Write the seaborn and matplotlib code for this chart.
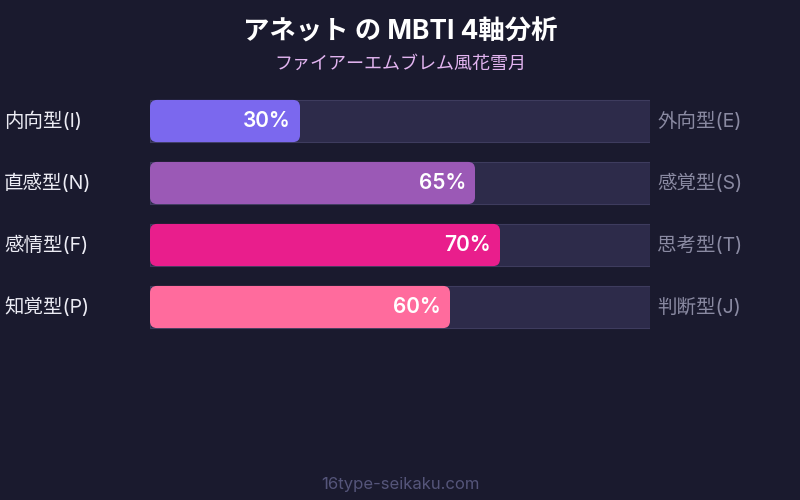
import pandas as pd
import matplotlib
matplotlib.use("Agg")
import matplotlib.pyplot as plt
import seaborn as sns
from matplotlib.patches import FancyBboxPatch

# --------------------------------------------------
# DATA
# --------------------------------------------------

left_labels = ["内向型(I)", "直感型(N)", "感情型(F)", "知覚型(P)"]
right_labels = ["外向型(E)", "感覚型(S)", "思考型(T)", "判断型(J)"]
scores = [30, 65, 70, 60]
bar_colors = ["#7b68ee", "#9b59b6", "#e91e8c", "#ff6b9d"]

title = "アネット の MBTI 4軸分析"
subtitle = "ファイアーエムブレム風花雪月"
footer = "16type-seikaku.com"

BG = "#1a1a2e"
TRACK = "#2d2b4a"

# --------------------------------------------------
# FIGURE
# --------------------------------------------------

sns.set_theme(style="dark")
plt.rcParams["font.family"] = ["Inter", "Noto Sans CJK JP", "DejaVu Sans"]

df = pd.DataFrame({
    "axis": left_labels,
    "score": scores,
    "track": [100] * len(scores),
})

fig = plt.figure(figsize=(8, 5), dpi=100, facecolor=BG)
ax = fig.add_axes([150 / 800, 1 - 338 / 500, 500 / 800, 248 / 500])
ax.set_facecolor(BG)

# background tracks
sns.barplot(
    data=df, x="track", y="axis", orient="h", saturation=1,
    color=TRACK, width=0.68, edgecolor="#3e3c5e", linewidth=0.8,
    ax=ax,
)
n_track = len(ax.patches)

# filled bars
sns.barplot(
    data=df, x="score", y="axis", orient="h", hue="axis", saturation=1,
    palette=bar_colors, legend=False, width=0.68, linewidth=0,
    ax=ax,
)

ax.set_xlim(0, 100)
ax.set_ylim(len(scores) - 0.5, -0.5)

# round off the filled bars
px_x = 100 / 500  # data units per pixel, x
px_y = 4 / 248    # data units per pixel, y
radius = 7 * px_x
fills = list(ax.patches[n_track:])
for p in fills:
    x0, y0 = p.get_x(), p.get_y()
    w, h = p.get_width(), p.get_height()
    color = p.get_facecolor()
    p.remove()
    ax.add_patch(FancyBboxPatch(
        (x0, y0), w, h,
        boxstyle=f"round,pad=0,rounding_size={radius}",
        mutation_aspect=px_y / px_x,
        facecolor=color, edgecolor="none", zorder=3,
    ))

# percentage labels
for i, v in enumerate(scores):
    ax.annotate(
        f"{v}%", xy=(v, i), xytext=(-6.5, 0), textcoords="offset points",
        ha="right", va="center", color="white",
        fontsize=15, fontweight="semibold", zorder=4,
    )

# side labels
for i, (l, r) in enumerate(zip(left_labels, right_labels)):
    ax.annotate(
        l, xy=(0, i), xycoords=("axes fraction", "data"),
        xytext=(-146 * 0.72, 0), textcoords="offset points",
        ha="left", va="center", color="#ececf4", fontsize=14,
    )
    ax.annotate(
        r, xy=(1, i), xycoords=("axes fraction", "data"),
        xytext=(7 * 0.72, 0), textcoords="offset points",
        ha="left", va="center", color="#8a8aa2", fontsize=14,
    )

ax.set_xticks([])
ax.set_yticks([])
ax.set_xlabel("")
ax.set_ylabel("")
for s in ax.spines.values():
    s.set_visible(False)

fig.text(0.5, 1 - 33 / 500, title, ha="center", va="center",
         color="white", fontsize=19, fontweight="bold")
fig.text(0.5, 1 - 64 / 500, subtitle, ha="center", va="center",
         color="#e2b4f0", fontsize=13)
fig.text(0.5, 1 - 484 / 500, footer, ha="center", va="center",
         color="#55557a", fontsize=12)

fig.savefig("out.png", dpi=100, facecolor=BG)
